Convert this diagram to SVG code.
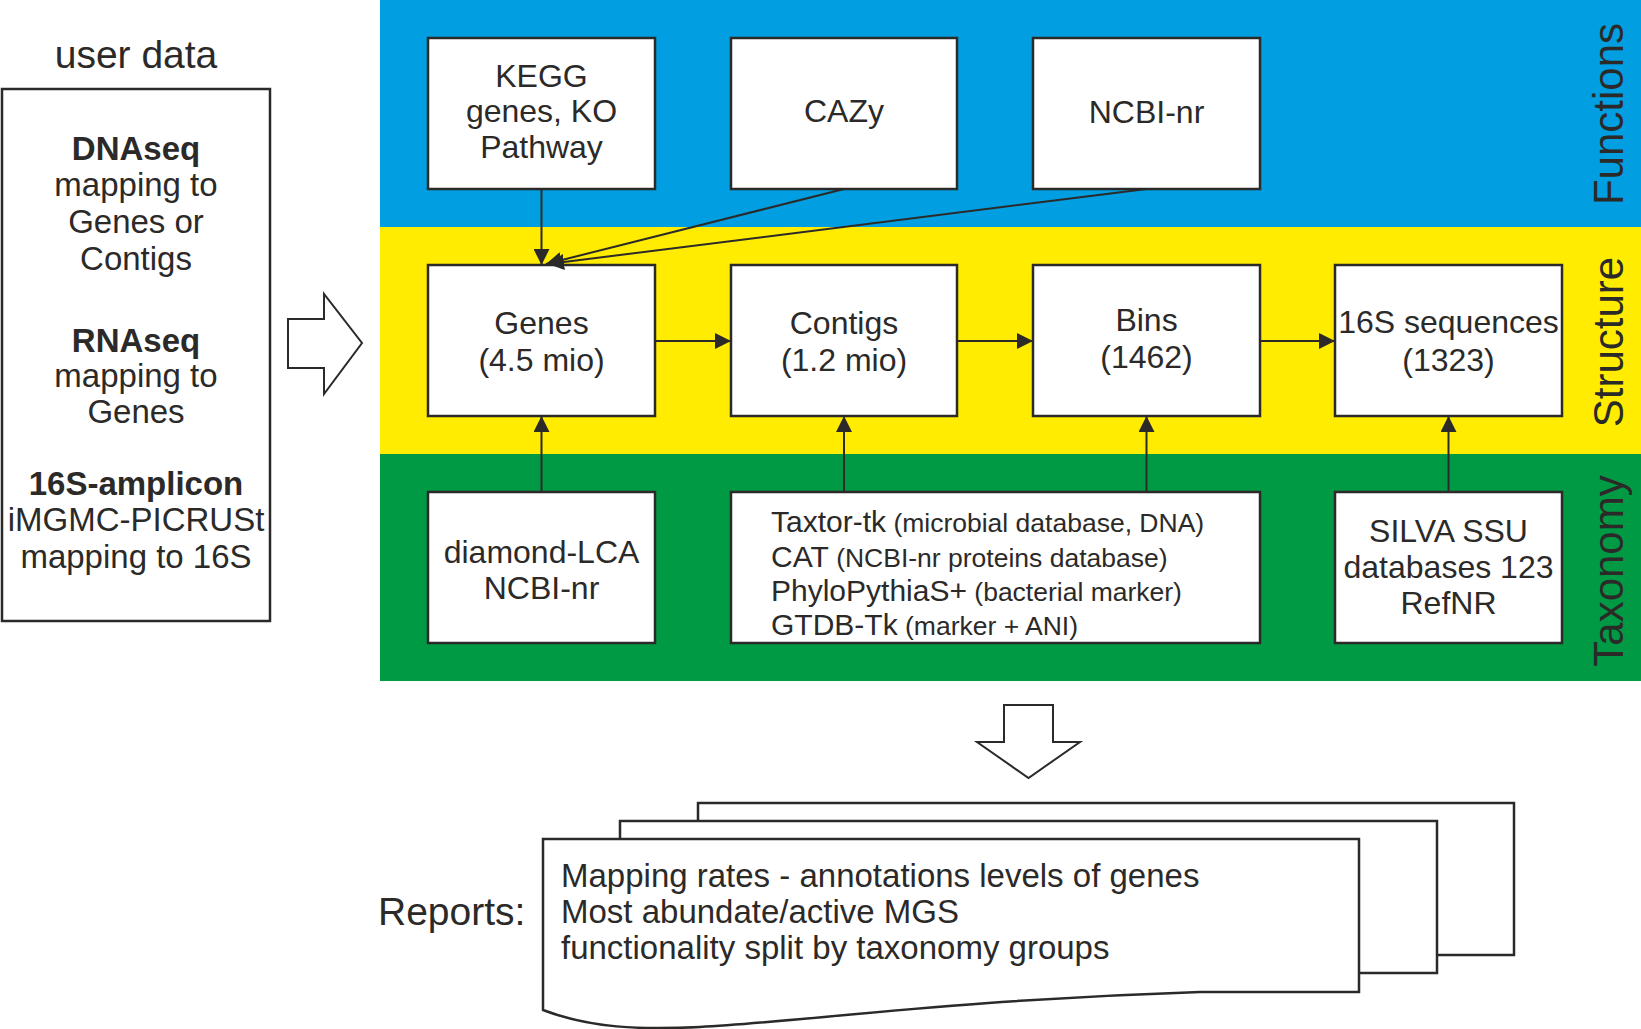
<svg xmlns="http://www.w3.org/2000/svg" width="1641" height="1029" viewBox="0 0 1641 1029">
<style>
text{font-family:"Liberation Sans",Arial,sans-serif;fill:#2b2a29}
.box{fill:#fff;stroke:#2b2a29;stroke-width:2.5}
.c{text-anchor:middle}
.bt{font-size:32px}
.ut{font-size:33px}
.b{font-weight:bold}
.side{font-size:42px;text-anchor:middle}
.conn{stroke:#2b2a29;stroke-width:2;fill:none;marker-end:url(#ah)}
.blk{fill:#fff;stroke:#2b2a29;stroke-width:2}
.tm{font-size:30px}
.tp{font-size:26.5px}
.rp{font-size:33px}
</style>
<defs>
<marker id="ah" markerUnits="userSpaceOnUse" markerWidth="17" markerHeight="16" refX="16" refY="8" orient="auto" viewBox="0 0 17 16">
<path d="M0,0 L16,8 L0,16 Z" fill="#2b2a29"/>
</marker>
</defs>
<rect width="1641" height="1029" fill="#fff"/>
<g id="bands">
<rect x="380" y="0" width="1261" height="227" fill="#019fe1"/>
<rect x="380" y="227" width="1261" height="227" fill="#ffec00"/>
<rect x="380" y="454" width="1261" height="227" fill="#009a44"/>
<text class="side" transform="translate(1623,114) rotate(-90)">Functions</text>
<text class="side" transform="translate(1623,342) rotate(-90)">Structure</text>
<text class="side" transform="translate(1623,571) rotate(-90)">Taxonomy</text>
</g>
<g id="userdata">
<text x="136" y="68" class="c" font-size="39">user data</text>
<rect class="box" x="2" y="89" width="268" height="532"/>
<text class="c ut b" x="136" y="160">DNAseq</text>
<text class="c ut" x="136" y="196">mapping to</text>
<text class="c ut" x="136" y="233">Genes or</text>
<text class="c ut" x="136" y="270">Contigs</text>
<text class="c ut b" x="136" y="352">RNAseq</text>
<text class="c ut" x="136" y="387">mapping to</text>
<text class="c ut" x="136" y="423">Genes</text>
<text class="c ut b" x="136" y="495">16S-amplicon</text>
<text class="c ut" x="136" y="531">iMGMC-PICRUSt</text>
<text class="c ut" x="136" y="568">mapping to 16S</text>
</g>
<g id="arrow-right">
<path class="blk" d="M288,319 L324,319 L324,294 L362,343 L324,394 L324,368 L288,368 Z"/>
</g>
<g id="kegg">
<rect class="box" x="428" y="38" width="227" height="151"/>
<text class="c bt" x="541.5" y="87">KEGG</text>
<text class="c bt" x="541.5" y="122">genes, KO</text>
<text class="c bt" x="541.5" y="158">Pathway</text>
</g>
<g id="cazy">
<rect class="box" x="731" y="38" width="226" height="151"/>
<text class="c bt" x="844" y="122">CAZy</text>
</g>
<g id="ncbi">
<rect class="box" x="1033" y="38" width="227" height="151"/>
<text class="c bt" x="1146.5" y="123">NCBI-nr</text>
</g>
<g id="genes">
<rect class="box" x="428" y="265" width="227" height="151"/>
<text class="c bt" x="541.5" y="334">Genes</text>
<text class="c bt" x="541.5" y="371">(4.5 mio)</text>
</g>
<g id="contigs">
<rect class="box" x="731" y="265" width="226" height="151"/>
<text class="c bt" x="844" y="334">Contigs</text>
<text class="c bt" x="844" y="371">(1.2 mio)</text>
</g>
<g id="bins">
<rect class="box" x="1033" y="265" width="227" height="151"/>
<text class="c bt" x="1146.5" y="331">Bins</text>
<text class="c bt" x="1146.5" y="368">(1462)</text>
</g>
<g id="s16">
<rect class="box" x="1335" y="265" width="227" height="151"/>
<text class="c bt" x="1448.5" y="333">16S sequences</text>
<text class="c bt" x="1448.5" y="371">(1323)</text>
</g>
<g id="diamond">
<rect class="box" x="428" y="492" width="227" height="151"/>
<text class="c bt" x="541.5" y="563">diamond-LCA</text>
<text class="c bt" x="541.5" y="599">NCBI-nr</text>
</g>
<g id="taxtor">
<rect class="box" x="731" y="492" width="529" height="151"/>
<text x="771" y="532"><tspan class="tm">Taxtor-tk</tspan><tspan class="tp"> (microbial database, DNA)</tspan></text>
<text x="771" y="567"><tspan class="tm">CAT</tspan><tspan class="tp"> (NCBI-nr proteins database)</tspan></text>
<text x="771" y="601"><tspan class="tm">PhyloPythiaS+</tspan><tspan class="tp"> (bacterial marker)</tspan></text>
<text x="771" y="635"><tspan class="tm">GTDB-Tk</tspan><tspan class="tp"> (marker + ANI)</tspan></text>
</g>
<g id="silva">
<rect class="box" x="1335" y="492" width="227" height="151"/>
<text class="c bt" x="1448.5" y="542">SILVA SSU</text>
<text class="c bt" x="1448.5" y="578">databases 123</text>
<text class="c bt" x="1448.5" y="614">RefNR</text>
</g>
<g id="connectors">
<path class="conn" d="M541.5,189 L541.5,265"/>
<path class="conn" d="M844,189 L546,264"/>
<path class="conn" d="M1146.5,189 L548,264"/>
<path class="conn" d="M655,341 L731,341"/>
<path class="conn" d="M957,341 L1033,341"/>
<path class="conn" d="M1260,341 L1335,341"/>
<path class="conn" d="M541.5,492 L541.5,416"/>
<path class="conn" d="M844,492 L844,416"/>
<path class="conn" d="M1146.5,492 L1146.5,416"/>
<path class="conn" d="M1448.5,492 L1448.5,416"/>
</g>
<g id="arrow-down">
<path class="blk" d="M1004,705 L1053,705 L1053,742 L1080,742 L1028.5,778 L977,742 L1004,742 Z"/>
</g>
<g id="reports">
<text x="378" y="925" font-size="39">Reports:</text>
<rect class="box" x="698" y="803" width="816" height="152"/>
<rect class="box" x="620" y="821" width="817" height="152"/>
<path class="box" d="M543,839 L1359,839 L1359,992 L1200,992 C950,1000 800,1022 700,1027 C640,1030 590,1028 543,1010 Z"/>
<text class="rp" x="561" y="887">Mapping rates - annotations levels of genes</text>
<text class="rp" x="561" y="923">Most abundate/active MGS</text>
<text class="rp" x="561" y="959">functionality split by taxonomy groups</text>
</g>
</svg>
